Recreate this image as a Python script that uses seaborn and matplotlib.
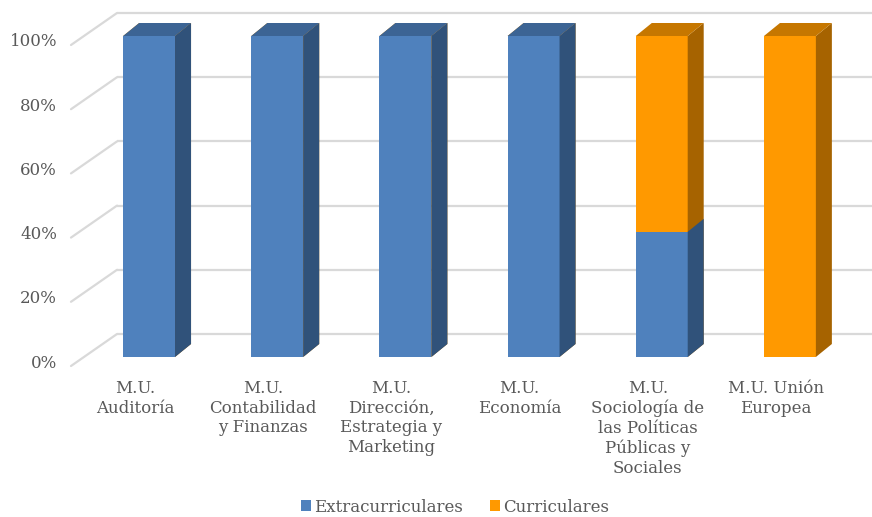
import matplotlib
matplotlib.use("Agg")
import matplotlib.pyplot as plt
import matplotlib.transforms as mtransforms
from matplotlib.patches import Polygon, Patch
from matplotlib.lines import Line2D
import numpy as np
import pandas as pd
import seaborn as sns

# ---- data ----
programas = ["M.U.\nAuditoría", "M.U.\nContabilidad\ny Finanzas",
             "M.U.\nDirección,\nEstrategia y\nMarketing", "M.U.\nEconomía",
             "M.U.\nSociología de\nlas Políticas\nPúblicas y\nSociales",
             "M.U. Unión\nEuropea"]
extracurriculares = [100, 100, 100, 100, 39, 0]
curriculares = [0, 0, 0, 0, 61, 100]
y_ticks = [0, 20, 40, 60, 80, 100]
y_ticklabels = ["0%", "20%", "40%", "60%", "80%", "100%"]
series_names = ["Extracurriculares", "Curriculares"]

# ---- style ----
sns.set_style("white")
plt.rcParams["font.family"] = ["DejaVu Serif"]
TXT = "#595959"
BLUE, BLUE_SIDE, BLUE_TOP = "#4F81BD", "#30527A", "#3C6494"
ORANGE, ORANGE_SIDE, ORANGE_TOP = "#FF9900", "#A66300", "#C67700"
GRID = "#D9D9D9"
FS = 12

W, H = 872, 517
DPI = 100
fig = plt.figure(figsize=(W / DPI, H / DPI), dpi=DPI)
ax = fig.add_axes([85 / W, (H - 357) / H, (854 - 85) / W, (357 - 36) / H])

df = pd.DataFrame({"programa": programas,
                   "extra": extracurriculares,
                   "curr": curriculares})
df["total"] = df["extra"] + df["curr"]

bw = 0.405
sns.barplot(data=df, x="programa", y="total", color=ORANGE, saturation=1,
            width=bw, linewidth=0, ax=ax, zorder=2)
n_orange = len(ax.patches)
sns.barplot(data=df, x="programa", y="extra", color=BLUE, saturation=1,
            width=bw, linewidth=0, ax=ax, zorder=4)

ax.set_xlim(-0.5, len(programas) - 0.5)
ax.set_ylim(0, 100)
for s in ax.spines.values():
    s.set_visible(False)
ax.set_xticks([])
ax.set_yticks([])
ax.set_xlabel("")
ax.set_ylabel("")
ax.patch.set_alpha(0)

# depth offsets (pixels, display coords: y up)
BAR_D = np.array([16, 13])
FRONT = np.array([-14, -9])
BACK = np.array([32, 23])

fig.canvas.draw()
ident = mtransforms.IdentityTransform()

def add_faces(rect, side_c, top_c, z, with_top):
    x0, y0 = rect.get_x(), rect.get_y()
    w, h = rect.get_width(), rect.get_height()
    if h <= 0:
        return
    bl, br, tr, tl = ax.transData.transform([(x0, y0), (x0 + w, y0),
                                             (x0 + w, y0 + h), (x0, y0 + h)])
    side = Polygon([br, br + BAR_D, tr + BAR_D, tr], closed=True,
                   facecolor=side_c, edgecolor="none", transform=ident, zorder=z)
    ax.add_artist(side)
    side.set_clip_on(False)
    if with_top:
        top = Polygon([tl, tr, tr + BAR_D, tl + BAR_D], closed=True,
                      facecolor=top_c, edgecolor="none", transform=ident, zorder=z)
        ax.add_artist(top)
        top.set_clip_on(False)

patches = list(ax.patches)
for i, p in enumerate(patches[:n_orange]):
    add_faces(p, ORANGE_SIDE, ORANGE_TOP, 2, True)
for i, p in enumerate(patches[n_orange:]):
    add_faces(p, BLUE_SIDE, BLUE_TOP, 4, curriculares[i] == 0)

# back-wall gridlines
back_tr = ax.get_yaxis_transform() + mtransforms.ScaledTranslation(
    BACK[0] / DPI, BACK[1] / DPI, fig.dpi_scale_trans)
for yv in y_ticks:
    ax.plot([0, 1.1], [yv, yv], color=GRID, lw=1.6, transform=back_tr,
            clip_on=False, zorder=0.5, solid_capstyle="butt")
    base = ax.get_yaxis_transform().transform((0, yv))
    p0 = base + FRONT
    p1 = base + BACK
    ln = Line2D([p0[0], p1[0]], [p0[1], p1[1]], color=GRID, lw=1.6,
                transform=ident, zorder=0.5)
    ax.add_artist(ln)
    ln.set_clip_on(False)

# y tick labels on the front plane
ylab_tr = ax.get_yaxis_transform() + mtransforms.ScaledTranslation(
    (FRONT[0] - 14) / DPI, (FRONT[1] + 3) / DPI, fig.dpi_scale_trans)
for yv, lab in zip(y_ticks, y_ticklabels):
    ax.text(0, yv, lab, transform=ylab_tr, ha="right", va="center",
            fontsize=FS, color=TXT)

# x category labels on the front plane
xlab_tr = ax.transData + mtransforms.ScaledTranslation(
    FRONT[0] / DPI, (FRONT[1] - 14) / DPI, fig.dpi_scale_trans)
for i, lab in enumerate(programas):
    ax.text(i, 0, lab, transform=xlab_tr, ha="center", va="top",
            fontsize=FS, color=TXT, linespacing=1.2, multialignment="center")

# legend
handles = [Patch(facecolor=BLUE, edgecolor="none"),
           Patch(facecolor=ORANGE, edgecolor="none")]
leg = fig.legend(handles, series_names, loc="center",
                 bbox_to_anchor=(455 / W, 1 - 507 / H), ncol=2, frameon=False,
                 fontsize=FS, handlelength=0.6, handleheight=0.6,
                 handletextpad=0.2, columnspacing=1.6, labelcolor=TXT,
                 borderpad=0.2)

fig.savefig("out.png", dpi=DPI, facecolor="white")
